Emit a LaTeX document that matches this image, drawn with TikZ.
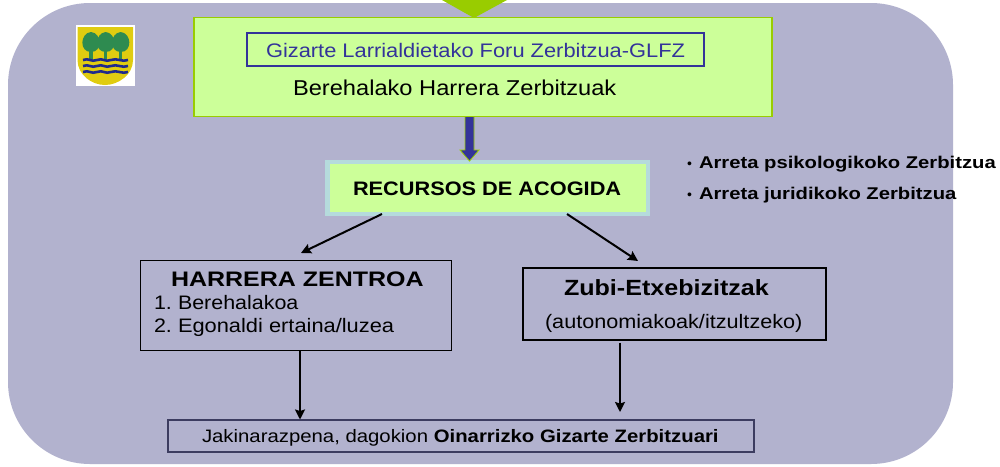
\documentclass[tikz,border=0pt]{standalone}
\usepackage{fontspec}
\usepackage{graphicx}
\setmainfont{Liberation Sans}
\usetikzlibrary{arrows.meta}
\definecolor{panel}{HTML}{B2B2CE}
\definecolor{lime}{HTML}{CCFF99}
\definecolor{limeedge}{HTML}{99CC00}
\definecolor{navy}{HTML}{333399}
\definecolor{paleblue}{HTML}{B5DBDC}
\definecolor{botedge}{HTML}{3C3C60}
\definecolor{shield}{HTML}{E0CC10}
\definecolor{treegreen}{HTML}{2E8B50}
\definecolor{wave}{HTML}{1F2A8C}
\newcommand{\hs}[3]{\scalebox{#1}[1]{\fontsize{#2pt}{#2pt}\selectfont #3}}
\tikzset{
  px/.style={x=1pt,y=-1pt},
  every node/.style={outer sep=0pt},
  box/.style={draw=black,fill=none,line width=1.3pt,inner sep=0pt,anchor=north west},
  lbl/.style={inner sep=0pt,anchor=base west},
  conn/.style={draw=black,line width=2pt,-{Stealth[length=10pt,width=10pt,inset=1.5pt]}},
}
\begin{document}
\begin{tikzpicture}[px]
\useasboundingbox (0,0) rectangle (1000,466);
\fill[white] (0,0) rectangle (1000,466);
% panel
\fill[panel,rounded corners=82pt] (8,3) rectangle (953,464);
% top triangle
\fill[limeedge] (442,0) -- (507,0) -- (474,18) -- cycle;
% logo
\fill[white] (76,25) rectangle (135,86);
\fill[shield] (77.5,27) -- (133,27) -- (133,60) .. controls (133,75) and (118,85) .. (105,85) .. controls (92,85) and (77.5,75) .. (77.5,60) -- cycle;
\foreach \cx in {91,105.7,120.7}{
  \fill[treegreen] (\cx,32) .. controls (\cx+11,33) and (\cx+12,52) .. (\cx,52) .. controls (\cx-12,52) and (\cx-11,33) .. (\cx,32) -- cycle;
  \fill[treegreen] (\cx-1.7,50) rectangle (\cx+1.7,58.5);
}
\foreach \wy in {60,66,72}{
  \draw[wave,line width=2.6pt] (83,\wy) .. controls (89,\wy-2.5) and (91,\wy+2.5) .. (97,\wy) .. controls (103,\wy-2.5) and (105,\wy+2.5) .. (111,\wy) .. controls (117,\wy-2.5) and (122,\wy+2.5) .. (128,\wy);
}
% top box
\node[draw=limeedge,fill=lime,line width=1.3pt,inner sep=0pt,minimum width=578pt,minimum height=99pt,anchor=north west] (top) at (194,17.5) {};
\node[draw=navy,line width=2pt,inner sep=0pt,minimum width=457pt,minimum height=33pt,anchor=north west] (glfz) at (247,33) {};
\node[lbl,text=navy] (glfzt) at (266,57) {\hs{1.115}{19.6}{Gizarte Larrialdietako Foru Zerbitzua-GLFZ}};
\node[lbl] (berehala) at (293,95) {\hs{1.10}{21.5}{Berehalako Harrera Zerbitzuak}};
% recursos box
\node[draw=paleblue,fill=lime,line width=4.5pt,inner sep=0pt,minimum width=320.5pt,minimum height=52pt,anchor=north west] (rec) at (327.5,162) {};
\node[lbl] (rect) at (353,195) {\hs{1.115}{19.5}{\bfseries RECURSOS DE ACOGIDA}};
% block arrow
\fill[navy,draw=limeedge,line width=.8pt] (465,116.5) -- (474,116.5) -- (474,150) -- (479,150) -- (469.5,161) -- (460,150) -- (465,150) -- cycle;
% bullets
\node[lbl] (bu1) at (687,168) {\fontsize{14pt}{14pt}\selectfont •};
\node[lbl] (b1) at (699,168) {\hs{1.19}{17}{\bfseries Arreta psikologikoko Zerbitzua}};
\node[lbl] (bu2) at (687,199) {\fontsize{14pt}{14pt}\selectfont •};
\node[lbl] (b2) at (699,199) {\hs{1.19}{17}{\bfseries Arreta juridikoko Zerbitzua}};
% harrera
\node[box,minimum width=311pt,minimum height=90pt] (har) at (140.5,260.5) {};
\node[lbl] (hart) at (171,286) {\hs{1.19}{21}{\bfseries HARRERA ZENTROA}};
\node[lbl] (n1) at (154,309) {\hs{1.10}{19.5}{1.}};
\node[lbl] (h1) at (178,309) {\hs{1.10}{19.5}{Berehalakoa}};
\node[lbl] (n2) at (154,332) {\hs{1.10}{19.5}{2.}};
\node[lbl] (h2) at (178,332) {\hs{1.12}{19.5}{Egonaldi ertaina/luzea}};
% zubi
\node[box,line width=2pt,minimum width=303pt,minimum height=72pt] (zubi) at (523,267.5) {};
\node[lbl] (zt) at (564,295) {\hs{1.14}{22}{\bfseries Zubi-Etxebizitzak}};
\node[lbl] (zs) at (545,328) {\hs{1.11}{19.5}{(autonomiakoak/itzultzeko)}};
% bottom
\node[draw=botedge,line width=2pt,inner sep=0pt,minimum width=586pt,minimum height=32.5pt,anchor=north west] (bot) at (168,419.5) {};
\node[lbl] (bt) at (202,442) {\hs{1.13}{18}{Jakinarazpena, dagokion \textbf{Oinarrizko Gizarte Zerbitzuari}}};
% connectors
\coordinate (r1) at (382,214);
\coordinate (r2) at (567,214);
\coordinate (h0) at (301,253);
\coordinate (z0) at (638,261);
\coordinate (z1) at (620,412);
\draw[conn] (r1) -- (h0);
\draw[conn] (r2) -- (z0);
\draw[conn] (har.south -| 300,0) -- (bot.north -| 300,0);
\draw[conn,shorten <=3pt] (zubi.south -| z1) -- (z1);
\end{tikzpicture}
\end{document}
